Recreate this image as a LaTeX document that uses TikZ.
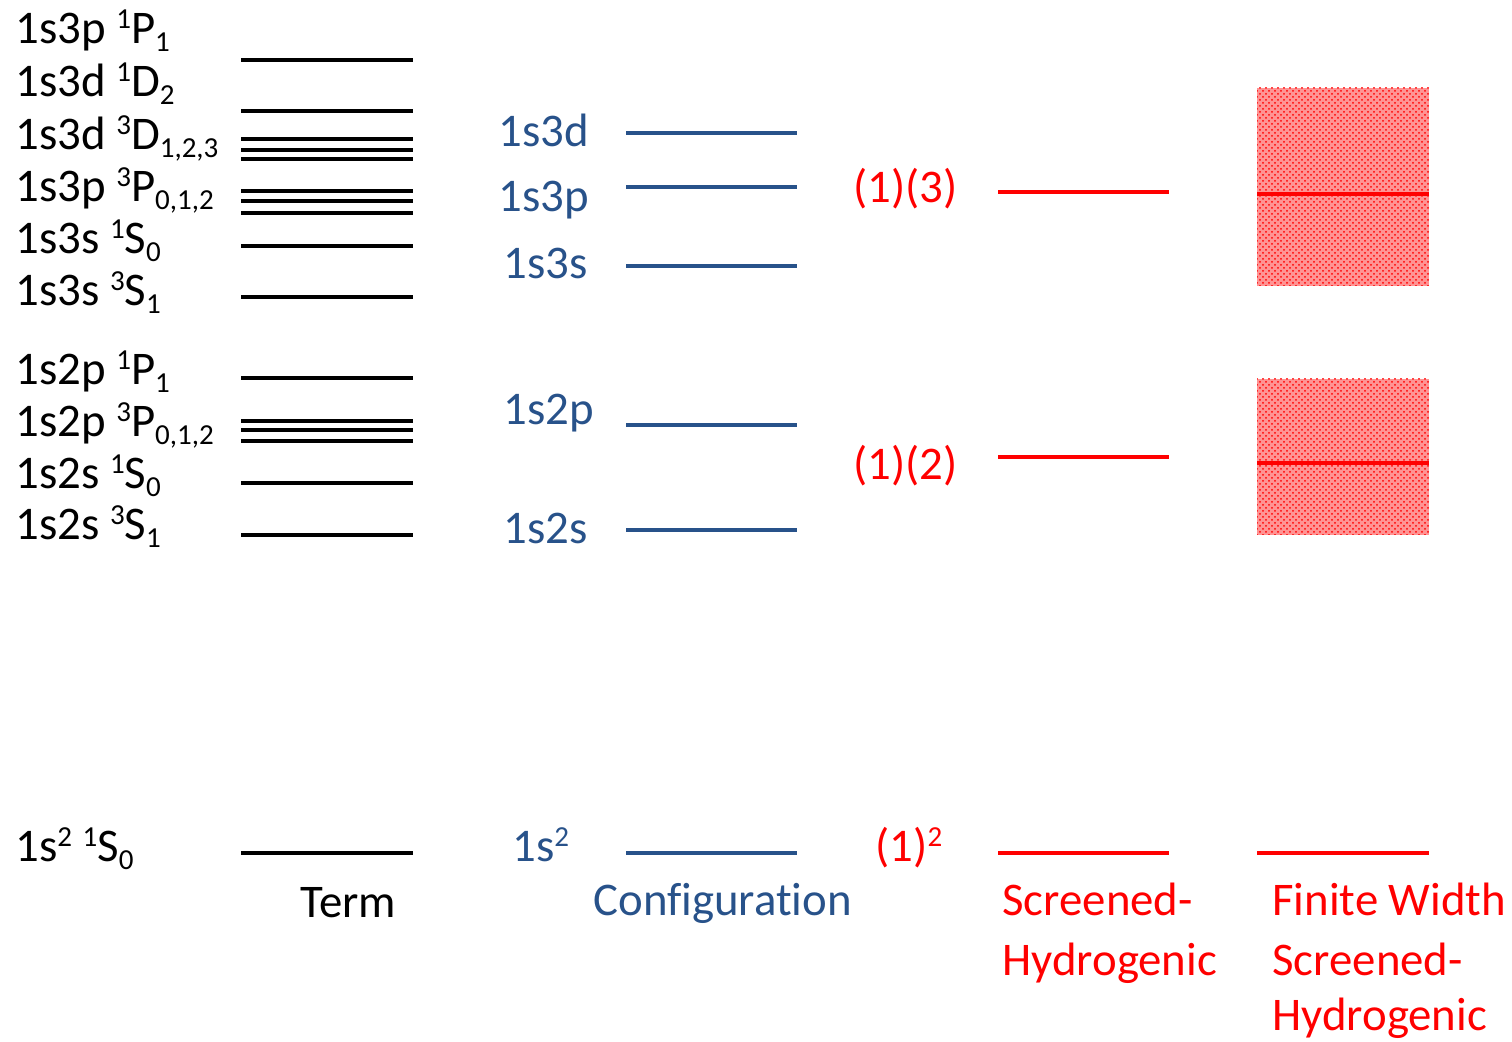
\documentclass[tikz,border=0pt]{standalone}
\usepackage{fontspec}
\setmainfont{Carlito}[Ligatures=NoCommon]
\usetikzlibrary{patterns}
\definecolor{cfgblue}{RGB}{40,82,138}
\newcommand\spx[1]{\raisebox{0.33em}{\fontsize{14.5}{14.5}\selectfont #1}}
\newcommand\sbx[1]{\raisebox{-0.17em}{\fontsize{14.5}{14.5}\selectfont #1}}
\begin{document}
\begin{tikzpicture}[x=0.5pt,y=-0.5pt,
  lbl/.style={inner sep=0pt,anchor=base west,font=\fontsize{23.4}{27}\selectfont},
  termlvl/.style={line width=1.8pt,black},
  cfglvl/.style={line width=1.8pt,cfgblue},
  shlvl/.style={line width=1.8pt,red},
  band/.style={pattern=crosshatch dots,pattern color=red}]
\useasboundingbox (0,0) rectangle (1512,1042);
% ---- Term column
\foreach \y in {60,111,139,150,159,191,201,213,246,297,378,421,430,441,483,535,853}
  \draw[termlvl] (241,\y) -- (413,\y);
\node[lbl] (t1) at (15,44) {1s3p \spx{1}P\sbx{1}};
\node[lbl] (t2) at (15,97) {1s3d \spx{1}D\sbx{2}};
\node[lbl] (t3) at (15,150) {1s3d \spx{3}D\sbx{1,2,3}};
\node[lbl] (t4) at (15,202) {1s3p \spx{3}P\sbx{0,1,2}};
\node[lbl] (t5) at (15,254) {1s3s \spx{1}S\sbx{0}};
\node[lbl] (t6) at (15,306) {1s3s \spx{3}S\sbx{1}};
\node[lbl] (t7) at (15,385) {1s2p \spx{1}P\sbx{1}};
\node[lbl] (t8) at (15,437) {1s2p \spx{3}P\sbx{0,1,2}};
\node[lbl] (t9) at (15,489) {1s2s \spx{1}S\sbx{0}};
\node[lbl] (t10) at (15,540) {1s2s \spx{3}S\sbx{1}};
\node[lbl] (t11) at (15,862) {1s\spx{2} \spx{1}S\sbx{0}};
\node[lbl] (tt) at (300,918) {Term};
% ---- Configuration column
\foreach \y in {133,187,266,425,530,853}
  \draw[cfglvl] (626,\y) -- (797,\y);
\begin{scope}[every node/.append style={text=cfgblue}]
\node[lbl] (c1) at (498,147) {1s3d};
\node[lbl] (c2) at (498,212) {1s3p};
\node[lbl] (c3) at (503,279) {1s3s};
\node[lbl] (c4) at (503,425) {1s2p};
\node[lbl] (c5) at (503,544) {1s2s};
\node[lbl] (c6) at (512,862) {1s\spx{2}};
\node[lbl] (ct) at (593,916) {Configuration};
\end{scope}
% ---- Screened-hydrogenic column
\foreach \y in {192,457,853}
  \draw[shlvl] (998,\y) -- (1169,\y);
\begin{scope}[every node/.append style={text=red}]
\node[lbl] (s1) at (853,203) {(1)(3)};
\node[lbl] (s2) at (853,480) {(1)(2)};
\node[lbl] (s3) at (875,862) {(1)\spx{2}};
\node[lbl] (st1) at (1002,916) {Screened-};
\node[lbl] (st2) at (1002,976) {Hydrogenic};
\node[lbl] (ft1) at (1272,916) {Finite Width};
\node[lbl] (ft2) at (1272,976) {Screened-};
\node[lbl] (ft3) at (1272,1031) {Hydrogenic};
\end{scope}
% ---- Finite width column
\fill[red!42] (1257,88) rectangle (1429,286);
\fill[band] (1257,88) rectangle (1429,286);
\fill[red!42] (1257,379) rectangle (1429,535);
\fill[band] (1257,379) rectangle (1429,535);
\draw[shlvl] (1257,194) -- (1429,194);
\draw[shlvl] (1257,463) -- (1429,463);
\draw[shlvl] (1257,853) -- (1429,853);
\end{tikzpicture}
\end{document}
